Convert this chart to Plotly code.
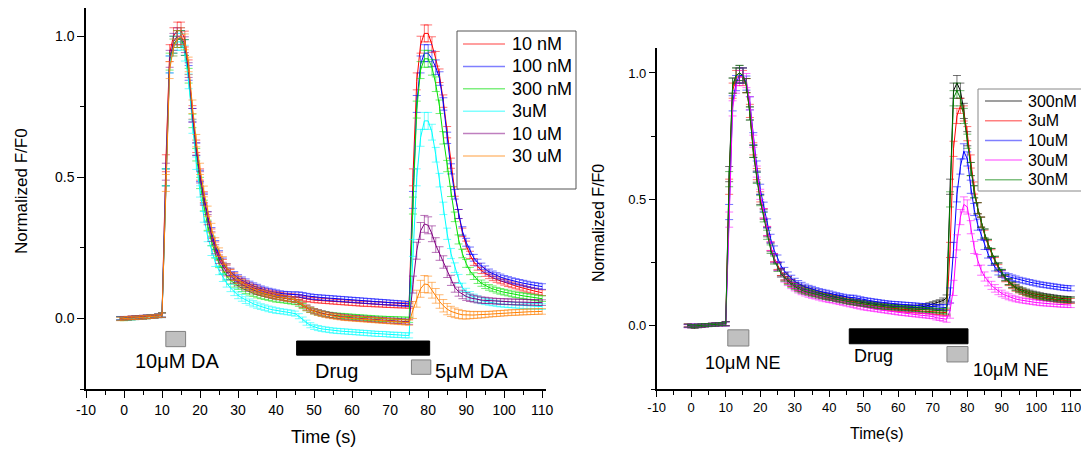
import plotly.graph_objects as go

# ---------------- data ----------------
T = list(range(-1, 111))  # time (s), 1 s sampling
X_TICKS = [-10, 0, 10, 20, 30, 40, 50, 60, 70, 80, 90, 100, 110]
X_TICK_LABELS = ["-10", "0", "10", "20", "30", "40", "50", "60", "70", "80", "90", "100", "110"]

# Left panel (DA), series names
NAMES_L = ["10 nM", "100 nM", "300 nM", "3uM", "10 uM", "30 uM"]
COLORS_L = ["#FF0000", "#0000FF", "#00E000", "#00FFFF", "#800080", "#FF8000"]

RED_L = [0.0, 0.0, 0.001, 0.002, 0.003, 0.004, 0.005, 0.006, 0.007, 0.008, 0.010, 0.012,
         0.55, 0.94, 1.00, 1.02, 1.02, 0.99, 0.89, 0.73, 0.61, 0.51,
         0.43, 0.36, 0.30, 0.255, 0.22, 0.195, 0.175, 0.16, 0.148, 0.138,
         0.13, 0.122, 0.115, 0.109, 0.104, 0.099, 0.095, 0.091, 0.088, 0.085,
         0.083, 0.081, 0.079, 0.078, 0.077, 0.075, 0.072, 0.069, 0.067, 0.065,
         0.064, 0.063, 0.062, 0.061, 0.060, 0.059, 0.058, 0.057, 0.056, 0.055,
         0.054, 0.053, 0.052, 0.052, 0.051, 0.050, 0.050, 0.049, 0.048, 0.048,
         0.047, 0.047, 0.046, 0.046, 0.045,
         0.50, 0.84, 0.97, 1.01, 1.01, 0.97, 0.92, 0.86, 0.77, 0.66,
         0.55, 0.45, 0.37, 0.305, 0.26, 0.225, 0.20, 0.183, 0.17, 0.16,
         0.151, 0.144, 0.138, 0.133, 0.128, 0.123, 0.119, 0.115, 0.111, 0.107,
         0.103, 0.100, 0.097, 0.094, 0.091]
BLUE_L = [0.001, 0.0, 0.001, 0.002, 0.002, 0.004, 0.005, 0.006, 0.006, 0.008, 0.010, 0.013,
          0.50, 0.90, 0.97, 0.99, 0.99, 0.96, 0.87, 0.72, 0.60, 0.505,
          0.425, 0.36, 0.305, 0.26, 0.225, 0.20, 0.18, 0.165, 0.153, 0.143,
          0.135, 0.128, 0.121, 0.115, 0.11, 0.105, 0.101, 0.097, 0.094, 0.091,
          0.089, 0.087, 0.086, 0.085, 0.085, 0.085, 0.083, 0.080, 0.078, 0.076,
          0.075, 0.074, 0.073, 0.072, 0.071, 0.070, 0.069, 0.068, 0.067, 0.066,
          0.065, 0.064, 0.063, 0.062, 0.061, 0.060, 0.059, 0.058, 0.057, 0.056,
          0.055, 0.054, 0.053, 0.052, 0.051,
          0.42, 0.76, 0.90, 0.94, 0.94, 0.92, 0.89, 0.85, 0.76, 0.64,
          0.53, 0.44, 0.37, 0.31, 0.27, 0.24, 0.215, 0.198, 0.185, 0.175,
          0.165, 0.158, 0.152, 0.147, 0.142, 0.138, 0.134, 0.131, 0.128, 0.125,
          0.122, 0.119, 0.117, 0.115, 0.113]
GREEN_L = [0.0, -0.002, 0.0, 0.001, 0.002, 0.003, 0.004, 0.005, 0.006, 0.007, 0.009, 0.012,
           0.50, 0.91, 0.97, 0.99, 0.99, 0.96, 0.86, 0.70, 0.58, 0.48,
           0.40, 0.33, 0.275, 0.23, 0.195, 0.17, 0.15, 0.135, 0.124, 0.115,
           0.107, 0.10, 0.094, 0.089, 0.084, 0.08, 0.077, 0.074, 0.071, 0.068,
           0.066, 0.064, 0.062, 0.060, 0.058, 0.052, 0.044, 0.036, 0.030, 0.025,
           0.021, 0.018, 0.015, 0.013, 0.011, 0.010, 0.009, 0.008, 0.007, 0.006,
           0.005, 0.004, 0.003, 0.002, 0.001, 0.0, -0.001, -0.001, -0.002, -0.002,
           -0.003, -0.003, -0.004, -0.004, -0.005,
           0.40, 0.74, 0.88, 0.92, 0.92, 0.89, 0.83, 0.75, 0.64, 0.54,
           0.45, 0.36, 0.28, 0.23, 0.195, 0.168, 0.15, 0.136, 0.125, 0.117,
           0.11, 0.105, 0.10, 0.096, 0.093, 0.09, 0.087, 0.084, 0.082, 0.08,
           0.078, 0.076, 0.074, 0.072, 0.07]
CYAN_L = [0.0, 0.0, 0.001, 0.001, 0.002, 0.003, 0.004, 0.005, 0.006, 0.007, 0.009, 0.011,
          0.50, 0.90, 0.96, 0.98, 0.98, 0.94, 0.84, 0.68, 0.55, 0.45,
          0.36, 0.29, 0.24, 0.20, 0.17, 0.145, 0.125, 0.108, 0.094, 0.082,
          0.073, 0.065, 0.058, 0.052, 0.047, 0.042, 0.038, 0.034, 0.031, 0.028,
          0.026, 0.024, 0.022, 0.020, 0.017, 0.008, -0.004, -0.015, -0.024, -0.030,
          -0.034, -0.037, -0.039, -0.041, -0.043, -0.044, -0.045, -0.046, -0.047, -0.048,
          -0.049, -0.050, -0.051, -0.052, -0.053, -0.054, -0.055, -0.055, -0.056, -0.057,
          -0.058, -0.058, -0.059, -0.060, -0.060,
          0.25, 0.50, 0.64, 0.70, 0.70, 0.66, 0.58, 0.49, 0.39, 0.30,
          0.23, 0.18, 0.14, 0.11, 0.093, 0.082, 0.074, 0.068, 0.063, 0.06,
          0.057, 0.055, 0.053, 0.051, 0.05, 0.049, 0.048, 0.047, 0.046, 0.045,
          0.044, 0.044, 0.043, 0.043, 0.042]
PURPLE_L = [0.0, 0.001, 0.001, 0.002, 0.003, 0.004, 0.004, 0.005, 0.006, 0.007, 0.009, 0.011,
            0.52, 0.92, 0.98, 1.00, 1.00, 0.97, 0.88, 0.72, 0.60, 0.50,
            0.42, 0.35, 0.29, 0.245, 0.21, 0.185, 0.165, 0.15, 0.138, 0.128,
            0.12, 0.113, 0.107, 0.101, 0.096, 0.092, 0.088, 0.084, 0.081, 0.078,
            0.075, 0.072, 0.070, 0.068, 0.065, 0.058, 0.048, 0.039, 0.032, 0.026,
            0.022, 0.018, 0.015, 0.012, 0.010, 0.008, 0.006, 0.004, 0.003, 0.002,
            0.001, 0.0, -0.001, -0.002, -0.003, -0.004, -0.005, -0.006, -0.007, -0.008,
            -0.008, -0.009, -0.010, -0.011, -0.012,
            0.12, 0.24, 0.31, 0.335, 0.33, 0.30, 0.26, 0.23, 0.20, 0.165,
            0.135, 0.11, 0.095, 0.085, 0.078, 0.073, 0.07, 0.067, 0.065, 0.064,
            0.063, 0.062, 0.061, 0.06, 0.06, 0.059, 0.059, 0.058, 0.058, 0.058,
            0.057, 0.057, 0.057, 0.056, 0.056]
ORANGE_L = [-0.002, 0.0, 0.001, 0.002, 0.002, 0.003, 0.004, 0.005, 0.006, 0.007, 0.009, 0.012,
            0.48, 0.88, 0.96, 0.99, 1.00, 0.98, 0.90, 0.75, 0.63, 0.53,
            0.45, 0.38, 0.32, 0.27, 0.235, 0.205, 0.18, 0.162, 0.148, 0.136,
            0.126, 0.118, 0.11, 0.104, 0.098, 0.093, 0.089, 0.085, 0.082, 0.079,
            0.076, 0.073, 0.070, 0.068, 0.066, 0.058, 0.047, 0.038, 0.031, 0.025,
            0.020, 0.016, 0.013, 0.010, 0.008, 0.006, 0.004, 0.002, 0.001, 0.0,
            -0.001, -0.002, -0.003, -0.004, -0.005, -0.006, -0.007, -0.008, -0.009, -0.010,
            -0.011, -0.012, -0.013, -0.014, -0.015,
            0.03, 0.07, 0.105, 0.122, 0.12, 0.10, 0.08, 0.06, 0.045, 0.033,
            0.025, 0.02, 0.016, 0.013, 0.012, 0.012, 0.012, 0.013, 0.013, 0.014,
            0.015, 0.016, 0.017, 0.018, 0.019, 0.02, 0.021, 0.021, 0.022, 0.023,
            0.023, 0.024, 0.024, 0.025, 0.025]

ERR_L = [0.006, 0.006, 0.006, 0.006, 0.006, 0.006, 0.006, 0.006, 0.006, 0.006, 0.006, 0.008,
         0.03, 0.03, 0.03, 0.03, 0.03, 0.028, 0.026, 0.024, 0.022, 0.02,
         0.019, 0.018, 0.017, 0.016, 0.015, 0.014, 0.014, 0.013, 0.013, 0.012,
         0.012, 0.012, 0.011, 0.011, 0.011, 0.01, 0.01, 0.01, 0.01, 0.01,
         0.009, 0.009, 0.009, 0.009, 0.009, 0.009, 0.009, 0.009, 0.009, 0.009,
         0.009, 0.009, 0.009, 0.009, 0.009, 0.009, 0.009, 0.009, 0.009, 0.009,
         0.009, 0.009, 0.009, 0.009, 0.009, 0.009, 0.009, 0.009, 0.009, 0.009,
         0.009, 0.009, 0.009, 0.009, 0.009,
         0.03, 0.03, 0.03, 0.03, 0.03, 0.028, 0.026, 0.024, 0.022, 0.02,
         0.018, 0.017, 0.016, 0.015, 0.014, 0.013, 0.012, 0.012, 0.011, 0.011,
         0.01, 0.01, 0.01, 0.01, 0.01, 0.01, 0.01, 0.01, 0.01, 0.01,
         0.01, 0.01, 0.01, 0.01, 0.01]

# Right panel (NE)
NAMES_R = ["300nM", "3uM", "10uM", "30uM", "30nM"]
COLORS_R = ["#000000", "#FF0000", "#0000FF", "#FF00FF", "#008000"]

BLACK_R = [0.0, -0.003, -0.004, -0.002, 0.0, 0.002, 0.003, 0.004, 0.005, 0.006, 0.007, 0.008,
           0.60, 0.95, 0.99, 1.00, 0.99, 0.95, 0.84, 0.69, 0.59, 0.50,
           0.44, 0.37, 0.31, 0.265, 0.235, 0.212, 0.195, 0.182, 0.17, 0.16,
           0.153, 0.147, 0.143, 0.139, 0.135, 0.131, 0.127, 0.123, 0.12, 0.117,
           0.114, 0.112, 0.110, 0.107, 0.104, 0.101, 0.098, 0.095, 0.093, 0.091,
           0.089, 0.087, 0.085, 0.083, 0.081, 0.080, 0.078, 0.077, 0.076, 0.075,
           0.074, 0.073, 0.072, 0.072, 0.072, 0.073, 0.075, 0.078, 0.082, 0.086,
           0.090, 0.094, 0.100, 0.110, 0.55,
           0.93, 0.96, 0.93, 0.85, 0.74, 0.62, 0.53, 0.465, 0.41, 0.365,
           0.325, 0.29, 0.26, 0.235, 0.21, 0.19, 0.175, 0.163, 0.153, 0.146,
           0.14, 0.135, 0.131, 0.127, 0.124, 0.121, 0.118, 0.116, 0.114, 0.112,
           0.11, 0.108, 0.107, 0.106, 0.105]
RED_R = [0.002, 0.0, -0.001, 0.0, 0.001, 0.002, 0.003, 0.004, 0.005, 0.006, 0.007, 0.009,
         0.55, 0.93, 0.98, 0.99, 0.98, 0.95, 0.85, 0.70, 0.60, 0.51,
         0.445, 0.375, 0.315, 0.27, 0.238, 0.213, 0.195, 0.181, 0.169, 0.159,
         0.151, 0.145, 0.14, 0.135, 0.131, 0.127, 0.123, 0.119, 0.116, 0.113,
         0.11, 0.107, 0.104, 0.101, 0.098, 0.095, 0.092, 0.089, 0.087, 0.085,
         0.083, 0.081, 0.079, 0.077, 0.075, 0.073, 0.071, 0.069, 0.067, 0.066,
         0.065, 0.063, 0.062, 0.061, 0.06, 0.059, 0.058, 0.057, 0.056, 0.055,
         0.054, 0.053, 0.052, 0.052, 0.30,
         0.70, 0.83, 0.87, 0.84, 0.76, 0.65, 0.545, 0.465, 0.41, 0.36,
         0.32, 0.285, 0.255, 0.228, 0.205, 0.186, 0.171, 0.158, 0.148, 0.14,
         0.134, 0.128, 0.124, 0.12, 0.117, 0.114, 0.111, 0.109, 0.107, 0.105,
         0.103, 0.101, 0.10, 0.099, 0.098]
BLUE_R = [0.0, 0.001, 0.0, 0.001, 0.002, 0.002, 0.003, 0.004, 0.005, 0.006, 0.007, 0.008,
          0.45, 0.88, 0.96, 0.99, 0.99, 0.96, 0.88, 0.74, 0.63, 0.54,
          0.47, 0.405, 0.345, 0.30, 0.265, 0.238, 0.217, 0.20, 0.187, 0.176,
          0.167, 0.16, 0.154, 0.149, 0.145, 0.141, 0.137, 0.134, 0.131, 0.128,
          0.125, 0.122, 0.119, 0.116, 0.113, 0.112, 0.112, 0.109, 0.106, 0.103,
          0.101, 0.099, 0.097, 0.095, 0.093, 0.091, 0.089, 0.088, 0.087, 0.086,
          0.085, 0.084, 0.083, 0.082, 0.081, 0.08, 0.079, 0.078, 0.077, 0.076,
          0.075, 0.074, 0.073, 0.072, 0.12,
          0.30, 0.52, 0.63, 0.69, 0.66, 0.55, 0.46, 0.40, 0.36, 0.32,
          0.285, 0.255, 0.232, 0.215, 0.205, 0.198, 0.194, 0.19, 0.186, 0.182,
          0.179, 0.176, 0.173, 0.17, 0.167, 0.164, 0.162, 0.16, 0.158, 0.156,
          0.154, 0.152, 0.15, 0.149, 0.148]
MAGENTA_R = [-0.002, 0.0, 0.001, 0.001, 0.002, 0.003, 0.003, 0.004, 0.005, 0.006, 0.006, 0.007,
             0.42, 0.86, 0.95, 0.98, 0.99, 0.97, 0.88, 0.73, 0.61, 0.52,
             0.445, 0.375, 0.315, 0.268, 0.233, 0.207, 0.187, 0.172, 0.16, 0.15,
             0.142, 0.135, 0.129, 0.124, 0.12, 0.116, 0.112, 0.108, 0.105, 0.102,
             0.099, 0.096, 0.093, 0.09, 0.087, 0.084, 0.081, 0.078, 0.075, 0.072,
             0.07, 0.068, 0.066, 0.064, 0.062, 0.06, 0.058, 0.056, 0.054, 0.052,
             0.05, 0.049, 0.047, 0.046, 0.044, 0.043, 0.041, 0.04, 0.038, 0.037,
             0.032, 0.030, 0.028, 0.026, 0.06,
             0.15, 0.33, 0.43, 0.48, 0.47, 0.39, 0.31, 0.26, 0.22, 0.195,
             0.175, 0.16, 0.148, 0.137, 0.128, 0.121, 0.115, 0.11, 0.106, 0.103,
             0.10, 0.098, 0.096, 0.094, 0.092, 0.09, 0.089, 0.088, 0.087, 0.086,
             0.085, 0.084, 0.083, 0.083, 0.082]
GREEN_R = [0.001, -0.001, 0.0, 0.001, 0.002, 0.003, 0.003, 0.004, 0.005, 0.006, 0.007, 0.008,
           0.58, 0.95, 0.99, 1.00, 0.99, 0.95, 0.84, 0.69, 0.585, 0.495,
           0.43, 0.36, 0.303, 0.26, 0.23, 0.207, 0.19, 0.176, 0.165, 0.155,
           0.147, 0.141, 0.136, 0.132, 0.128, 0.124, 0.12, 0.117, 0.114, 0.111,
           0.108, 0.105, 0.102, 0.099, 0.096, 0.094, 0.092, 0.09, 0.088, 0.086,
           0.084, 0.082, 0.08, 0.078, 0.076, 0.075, 0.074, 0.073, 0.072, 0.071,
           0.07, 0.069, 0.068, 0.067, 0.066, 0.065, 0.064, 0.063, 0.062, 0.061,
           0.06, 0.059, 0.058, 0.058, 0.50,
           0.90, 0.93, 0.90, 0.83, 0.73, 0.62, 0.53, 0.465, 0.41, 0.365,
           0.325, 0.29, 0.26, 0.234, 0.21, 0.19, 0.174, 0.161, 0.15, 0.142,
           0.136, 0.13, 0.126, 0.122, 0.119, 0.116, 0.113, 0.111, 0.109, 0.107,
           0.105, 0.104, 0.103, 0.102, 0.101]

ERR_R = [0.006, 0.006, 0.006, 0.006, 0.006, 0.006, 0.006, 0.006, 0.006, 0.006, 0.006, 0.008,
         0.03, 0.03, 0.03, 0.03, 0.03, 0.028, 0.026, 0.024, 0.022, 0.02,
         0.019, 0.018, 0.017, 0.016, 0.015, 0.014, 0.014, 0.013, 0.013, 0.012,
         0.012, 0.012, 0.011, 0.011, 0.011, 0.01, 0.01, 0.01, 0.01, 0.01,
         0.009, 0.009, 0.009, 0.009, 0.009, 0.009, 0.009, 0.009, 0.009, 0.009,
         0.009, 0.009, 0.009, 0.009, 0.009, 0.009, 0.009, 0.009, 0.009, 0.009,
         0.009, 0.009, 0.009, 0.009, 0.009, 0.009, 0.009, 0.009, 0.009, 0.009,
         0.009, 0.009, 0.01, 0.012, 0.03,
         0.03, 0.03, 0.03, 0.03, 0.028, 0.026, 0.024, 0.022, 0.02, 0.018,
         0.017, 0.016, 0.015, 0.014, 0.013, 0.012, 0.012, 0.011, 0.011, 0.01,
         0.01, 0.01, 0.01, 0.01, 0.01, 0.01, 0.01, 0.01, 0.01, 0.01,
         0.01, 0.01, 0.01, 0.01, 0.01]

SERIES_L = [RED_L, BLUE_L, GREEN_L, CYAN_L, PURPLE_L, ORANGE_L]
SERIES_R = [BLACK_R, RED_R, BLUE_R, MAGENTA_R, GREEN_R]

for s in SERIES_L + SERIES_R + [ERR_L, ERR_R]:
    assert len(s) == len(T), len(s)

FONT = "Liberation Sans, Arial, sans-serif"
W, H = 1081, 450


def px_x(p):
    return p / W


def px_y(p):
    return 1 - p / H


def rgba(hex_color, a):
    h = hex_color.lstrip("#")
    r, g, b = int(h[0:2], 16), int(h[2:4], 16), int(h[4:6], 16)
    return f"rgba({r},{g},{b},{a})"


fig = go.Figure()

for name, vals, col in zip(NAMES_L, SERIES_L, COLORS_L):
    fig.add_trace(go.Scatter(
        x=T, y=vals, mode="lines", name=name, showlegend=False,
        line=dict(color=col, width=1),
        error_y=dict(type="data", array=ERR_L, visible=True,
                     color=rgba(col, 0.55), thickness=1, width=4),
        xaxis="x", yaxis="y"))

for name, vals, col in zip(NAMES_R, SERIES_R, COLORS_R):
    fig.add_trace(go.Scatter(
        x=T, y=vals, mode="lines", name=name, showlegend=False,
        line=dict(color=col, width=1),
        error_y=dict(type="data", array=ERR_R, visible=True,
                     color=rgba(col, 0.55), thickness=1, width=4),
        xaxis="x2", yaxis="y2"))

axis_common = dict(showline=True, linecolor="black", linewidth=1.5,
                   ticks="outside", tickcolor="black", tickwidth=1.2,
                   showgrid=False, zeroline=False, mirror=False,
                   ticklabeloverflow="allow")

fig.update_layout(
    width=W, height=H,
    margin=dict(l=0, r=0, t=0, b=0, autoexpand=False),
    paper_bgcolor="white", plot_bgcolor="white",
    font=dict(family=FONT, color="black"),
    showlegend=False,
    xaxis=dict(domain=[px_x(86), px_x(546)], range=[-10, 111], anchor="y",
               tickmode="array", tickvals=X_TICKS, ticktext=X_TICK_LABELS, ticklen=7,
               minor=dict(dtick=5, tick0=-10, ticks="outside", ticklen=4, tickcolor="black"),
               tickfont=dict(size=14, family=FONT), **axis_common),
    yaxis=dict(domain=[px_y(389), px_y(8)], range=[-0.25, 1.1], anchor="x",
               tick0=0, dtick=0.5, tickformat=".1f", ticklen=7,
               minor=dict(dtick=0.25, tick0=0, ticks="outside", ticklen=4, tickcolor="black"),
               tickfont=dict(size=14, family=FONT), **axis_common),
    xaxis2=dict(domain=[px_x(656.7), px_x(1080.5)], range=[-10, 112.8], anchor="y2",
                tickmode="array", tickvals=X_TICKS, ticktext=X_TICK_LABELS, ticklen=6,
                minor=dict(dtick=5, tick0=-10, ticks="outside", ticklen=4, tickcolor="black"),
                tickfont=dict(size=13, family=FONT), **axis_common),
    yaxis2=dict(domain=[px_y(389), px_y(47.7)], range=[-0.25, 1.1], anchor="x2",
                tick0=0, dtick=0.5, tickformat=".1f", ticklen=6,
                minor=dict(dtick=0.25, tick0=0, ticks="outside", ticklen=4, tickcolor="black"),
                tickfont=dict(size=13, family=FONT), **axis_common),
)

GRAY_FILL = "#C0C0C0"
GRAY_LINE = "#808080"
shapes = [
    # left panel stimulus markers
    dict(type="rect", xref="x", yref="y", x0=11, x1=16.2, y0=-0.1, y1=-0.046,
         fillcolor=GRAY_FILL, line=dict(color=GRAY_LINE, width=1)),
    dict(type="rect", xref="x", yref="y", x0=45.4, x1=80.4, y0=-0.13, y1=-0.08,
         fillcolor="black", line=dict(color="black", width=1)),
    dict(type="rect", xref="x", yref="y", x0=75.6, x1=80.7, y0=-0.198, y1=-0.147,
         fillcolor=GRAY_FILL, line=dict(color=GRAY_LINE, width=1)),
    # right panel stimulus markers
    dict(type="rect", xref="x2", yref="y2", x0=10.6, x1=16.7, y0=-0.08, y1=-0.016,
         fillcolor=GRAY_FILL, line=dict(color=GRAY_LINE, width=1)),
    dict(type="rect", xref="x2", yref="y2", x0=45.8, x1=80.2, y0=-0.071, y1=-0.012,
         fillcolor="black", line=dict(color="black", width=1)),
    dict(type="rect", xref="x2", yref="y2", x0=74.1, x1=80.2, y0=-0.143, y1=-0.082,
         fillcolor=GRAY_FILL, line=dict(color=GRAY_LINE, width=1)),
]

ann = [
    dict(text="10μM DA", xref="x", yref="y", x=14, y=-0.15, showarrow=False,
         xanchor="center", yanchor="middle", font=dict(size=20, family=FONT)),
    dict(text="Drug", xref="x", yref="y", x=56, y=-0.186, showarrow=False,
         xanchor="center", yanchor="middle", font=dict(size=20, family=FONT)),
    dict(text="5μM DA", xref="x", yref="y", x=81.3, y=-0.187, showarrow=False,
         xanchor="left", yanchor="middle", font=dict(size=20, family=FONT)),
    dict(text="10μM NE", xref="x2", yref="y2", x=14.8, y=-0.146, showarrow=False,
         xanchor="center", yanchor="middle", font=dict(size=18, family=FONT)),
    dict(text="Drug", xref="x2", yref="y2", x=46.5, y=-0.12, showarrow=False,
         xanchor="left", yanchor="middle", font=dict(size=18, family=FONT)),
    dict(text="10μM NE", xref="x2", yref="y2", x=81.2, y=-0.174, showarrow=False,
         xanchor="left", yanchor="middle", font=dict(size=18, family=FONT)),
    # axis titles
    dict(text="Time (s)", xref="paper", yref="paper", x=px_x(323), y=px_y(437),
         showarrow=False, xanchor="center", yanchor="middle", font=dict(size=18, family=FONT)),
    dict(text="Normalized F/F0", xref="paper", yref="paper", x=px_x(22), y=px_y(191),
         showarrow=False, textangle=-90, xanchor="center", yanchor="middle",
         font=dict(size=17, family=FONT)),
    dict(text="Time(s)", xref="paper", yref="paper", x=px_x(877), y=px_y(433),
         showarrow=False, xanchor="center", yanchor="middle", font=dict(size=16, family=FONT)),
    dict(text="Normalized F/F0", xref="paper", yref="paper", x=px_x(598), y=px_y(223),
         showarrow=False, textangle=-90, xanchor="center", yanchor="middle",
         font=dict(size=16, family=FONT)),
]


# ----- legends (box, sample line, label) drawn in paper space -----
def add_legend(names, colors, box, line_x, text_x, row0, row_step, font_size, border):
    x0, y0, x1, y1 = box
    shapes.append(dict(type="rect", xref="paper", yref="paper", layer="above",
                       x0=px_x(x0), x1=px_x(x1), y0=px_y(y1), y1=px_y(y0),
                       fillcolor="white", line=dict(color=border, width=1)))
    for i, (name, col) in enumerate(zip(names, colors)):
        yy = row0 + i * row_step
        shapes.append(dict(type="line", xref="paper", yref="paper", layer="above",
                           x0=px_x(line_x[0]), x1=px_x(line_x[1]),
                           y0=px_y(yy), y1=px_y(yy),
                           line=dict(color=rgba(col, 0.5), width=1.5)))
        ann.append(dict(text=name, xref="paper", yref="paper", x=px_x(text_x), y=px_y(yy),
                        showarrow=False, xanchor="left", yanchor="middle",
                        font=dict(size=font_size, family=FONT)))


add_legend(NAMES_L, COLORS_L, (457, 31, 576, 189), (463, 505), 510, 44, 22.4, 18, "#555555")
add_legend(NAMES_R, COLORS_R, (978, 89, 1085, 191), (985, 1022), 1026, 101, 19.7, 16, "#888888")

fig.update_layout(shapes=shapes, annotations=ann)

fig.write_html("out.html", config={"displayModeBar": False},
               post_script="document.body.style.margin='0';document.body.style.overflow='hidden';")
